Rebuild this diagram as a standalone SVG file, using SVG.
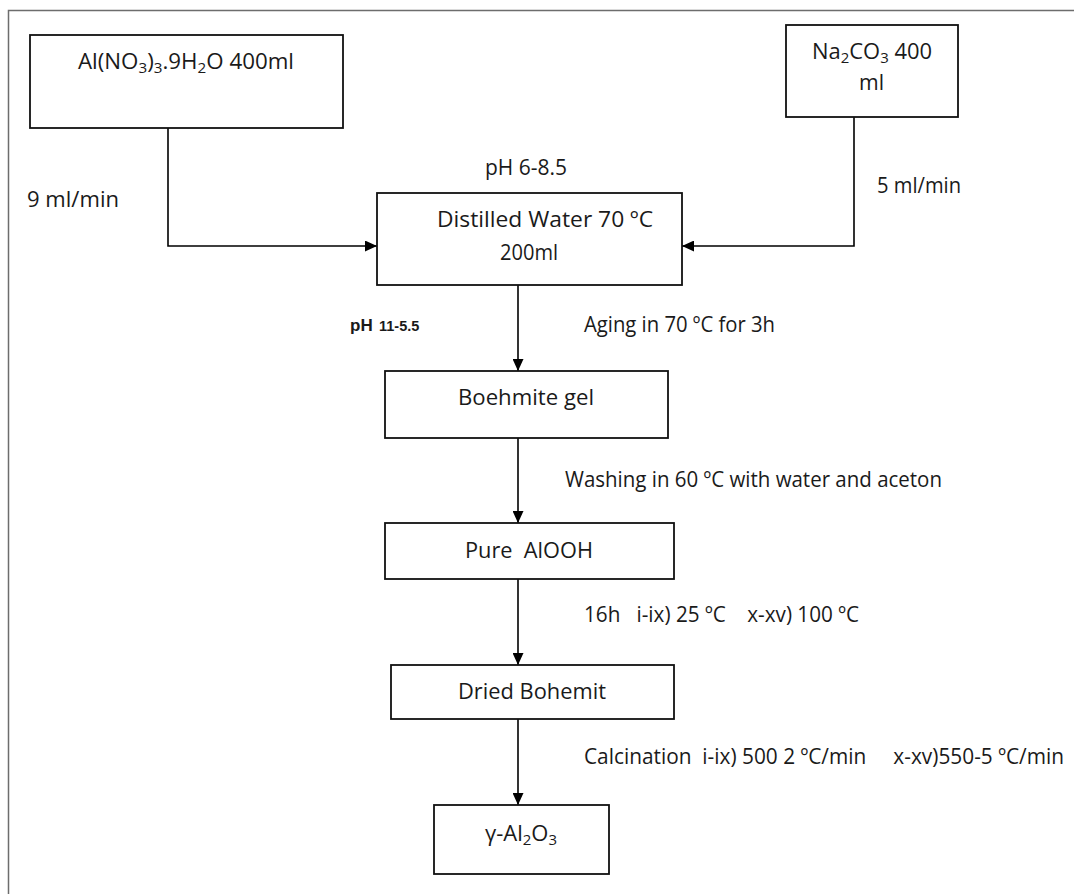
<svg xmlns="http://www.w3.org/2000/svg" width="1074" height="894" viewBox="0 0 1074 894">
<defs>
<marker id="arr" markerWidth="12" markerHeight="11" refX="12" refY="5.5" orient="auto" markerUnits="userSpaceOnUse">
<path d="M0,0 L12,5.5 L0,11 Z" fill="#000"/>
</marker>
<style>
.box{fill:#fff;stroke:#111;stroke-width:1.8}
.t{font-family:"Open Sans","Liberation Sans",sans-serif;font-size:22px;fill:#1a1a1a}
.c{fill:none;stroke:#000;stroke-width:1.6}
.b{font-weight:bold;font-family:"Liberation Sans",Arial,sans-serif}
</style>
</defs>
<rect x="8.5" y="10.5" width="1100" height="900" fill="#fff" stroke="#6d6d6d" stroke-width="1.5"/>
<g id="connectors">
<path class="c" d="M168,128 V246 H377" marker-end="url(#arr)"/>
<path class="c" d="M854,117 V246 H682" marker-end="url(#arr)"/>
<path class="c" d="M518,285 V371" marker-end="url(#arr)"/>
<path class="c" d="M518,438 V523" marker-end="url(#arr)"/>
<path class="c" d="M518,579 V665" marker-end="url(#arr)"/>
<path class="c" d="M518,719 V805" marker-end="url(#arr)"/>
</g>
<g id="labels">
<text class="t" x="27" y="207" textLength="92" lengthAdjust="spacingAndGlyphs">9 ml/min</text>
<text class="t" x="877" y="193" textLength="84" lengthAdjust="spacingAndGlyphs">5 ml/min</text>
<text class="t" x="485" y="175" textLength="82" lengthAdjust="spacingAndGlyphs">pH 6-8.5</text>
<text class="t b" x="350" y="331"><tspan font-size="17">pH</tspan><tspan x="379" font-size="14.5">11-5.5</tspan></text>
<text class="t" x="584" y="332" textLength="191" lengthAdjust="spacingAndGlyphs">Aging in 70 ºC for 3h</text>
<text class="t" x="565" y="487" textLength="377" lengthAdjust="spacingAndGlyphs">Washing in 60 ºC with water and aceton</text>
<text class="t" x="584" y="622" textLength="275" lengthAdjust="spacingAndGlyphs" xml:space="preserve">16h   i-ix) 25 ºC    x-xv) 100 ºC</text>
<text class="t" x="584" y="764" font-size="21" textLength="480" lengthAdjust="spacingAndGlyphs" xml:space="preserve">Calcination  i-ix) 500 2 ºC/min     x-xv)550-5 ºC/min</text>
</g>
<g id="node-alno3">
<rect class="box" x="30" y="35" width="313" height="93"/>
<text class="t" x="78" y="69" textLength="216" lengthAdjust="spacingAndGlyphs">Al(NO<tspan font-size="15" dy="4">3</tspan><tspan dy="-4">)</tspan><tspan font-size="15" dy="4">3</tspan><tspan dy="-4">.9H</tspan><tspan font-size="15" dy="4">2</tspan><tspan dy="-4">O 400ml</tspan></text>
</g>
<g id="node-na2co3">
<rect class="box" x="786" y="25" width="172" height="92"/>
<text class="t" x="812" y="59" textLength="120" lengthAdjust="spacingAndGlyphs">Na<tspan font-size="15" dy="4">2</tspan><tspan dy="-4">CO</tspan><tspan font-size="15" dy="4">3</tspan><tspan dy="-4"> 400</tspan></text>
<text class="t" x="859" y="90" textLength="25" lengthAdjust="spacingAndGlyphs">ml</text>
</g>
<g id="node-water">
<rect class="box" x="377" y="193" width="305" height="92"/>
<text class="t" x="437" y="227" textLength="216" lengthAdjust="spacingAndGlyphs">Distilled Water 70 ºC</text>
<text class="t" x="500" y="260" textLength="58" lengthAdjust="spacingAndGlyphs">200ml</text>
</g>
<g id="node-boehmite">
<rect class="box" x="385" y="371" width="283" height="67"/>
<text class="t" x="458" y="405" textLength="136" lengthAdjust="spacingAndGlyphs">Boehmite gel</text>
</g>
<g id="node-alooh">
<rect class="box" x="385" y="523" width="289" height="56"/>
<text class="t" x="465" y="558" textLength="128" lengthAdjust="spacingAndGlyphs" xml:space="preserve">Pure  AlOOH</text>
</g>
<g id="node-dried">
<rect class="box" x="391" y="665" width="283" height="54"/>
<text class="t" x="458" y="699" textLength="148" lengthAdjust="spacingAndGlyphs">Dried Bohemit</text>
</g>
<g id="node-gamma">
<rect class="box" x="434" y="805" width="175" height="69"/>
<text class="t" x="485" y="841" textLength="72" lengthAdjust="spacingAndGlyphs">γ-Al<tspan font-size="15" dy="4">2</tspan><tspan dy="-4">O</tspan><tspan font-size="15" dy="4">3</tspan></text>
</g>
</svg>
